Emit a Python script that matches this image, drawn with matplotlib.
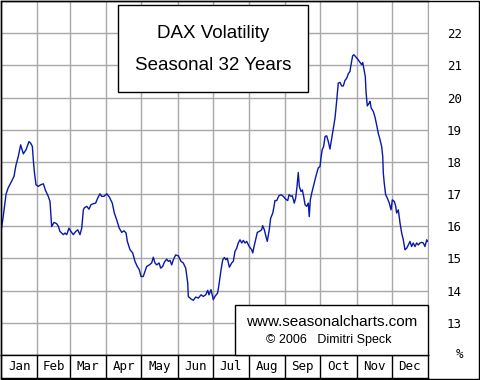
import matplotlib
matplotlib.use('Agg')
import matplotlib.pyplot as plt
from matplotlib.patches import Rectangle

# seasonal DAX volatility (day of year, %)
days = [0, 1.5, 2.6, 4.3, 6.2, 9.1, 11.1, 12.8, 14.8, 16.8, 19.1, 21.4, 23.9, 25.4,
        26.8, 27.6, 28.5, 29.9, 31.9, 33.9, 36.2, 37.9, 40.4, 41.9, 43.3, 45.3, 47.6,
        49.0, 50.4, 53.3, 54.7, 56.2, 58.1, 59.8, 61.8, 63.9, 65.6, 67.5, 69.0, 70.4,
        71.2, 73.3, 75.2, 76.9, 78.9, 80.9, 82.7, 84.6, 86.1, 88.0, 90.4, 92.6, 95.1,
        96.9, 98.9, 101.1, 103.2, 105.1, 106.9, 108.0, 110.3, 112.6, 114.5, 116.5,
        118.2, 119.7, 121.6, 123.1, 124.5, 126.8, 128.8, 130.2, 131.6, 133.1, 135.1,
        136.5, 138.2, 139.6, 141.6, 143.0, 144.5, 145.9, 147.3, 149.3, 151.6, 153.9,
        155.8, 157.9, 159.6, 160.1, 162.4, 164.4, 166.4, 168.7, 171.0, 172.9, 175.0,
        176.7, 177.8, 179.5, 181.5, 182.9, 185.2, 186.3, 188.1, 189.5, 190.9, 192.3,
        193.4, 195.2, 197.2, 198.6, 200.0, 201.5, 202.8, 204.3, 205.8, 207.1, 208.6,
        210.0, 212.2, 214.3, 215.2, 216.3, 218.0, 219.1, 220.8, 222.8, 223.7, 225.1,
        226.5, 227.6, 229.3, 230.5, 232.3, 233.4, 234.2, 235.7, 237.6, 239.3, 241.3,
        243.4, 245.1, 246.2, 247.9, 249.0, 250.7, 251.9, 253.0, 254.1, 255.0, 256.4,
        257.6, 258.7, 259.9, 261.3, 262.7, 263.5, 264.4, 265.6, 267.0, 268.4, 269.9,
        271.2, 272.7, 273.5, 274.6, 275.8, 277.0, 278.4, 279.8, 281.2, 282.7, 284.1,
        285.5, 286.9, 288.3, 289.8, 291.2, 292.6, 294.0, 295.5, 296.9, 298.3, 298.9,
        300.6, 301.7, 303.5, 305.4, 306.9, 308.3, 309.2, 310.3, 311.4, 312.0, 313.1,
        314.8, 315.4, 316.5, 318.2, 319.7, 321.1, 322.5, 324.0, 325.4, 326.3, 326.8,
        327.6, 328.8, 330.2, 331.9, 333.4, 334.5, 336.2, 337.4, 338.2, 339.6, 341.1,
        342.5, 343.9, 345.3, 346.8, 348.2, 349.6, 351.0, 352.4, 353.9, 355.3, 356.7,
        358.1, 359.6, 361.0, 362.4, 363.9, 364.7]
vol = [15.84, 16.2, 16.5, 17.0, 17.2, 17.4, 17.55, 17.9, 18.17, 18.53, 18.25, 18.38,
       18.63, 18.58, 18.48, 18.07, 17.70, 17.29, 17.24, 17.29, 17.32, 17.13, 16.93,
       16.77, 15.99, 16.12, 16.08, 16.0, 15.84, 15.74, 15.79, 15.74, 15.94, 15.84,
       15.74, 15.84, 15.89, 15.74, 15.94, 16.51, 16.57, 16.62, 16.53, 16.67, 16.70,
       16.72, 16.88, 17.01, 16.93, 16.93, 17.01, 16.91, 16.72, 16.41, 16.20, 15.94,
       15.81, 15.86, 15.79, 15.53, 15.27, 15.17, 14.91, 14.75, 14.65, 14.44, 14.44,
       14.60, 14.75, 14.80, 14.86, 15.04, 14.86, 14.80, 14.86, 14.70, 14.75, 14.88,
       14.98, 14.91, 14.94, 14.80, 14.96, 15.11, 15.08, 14.91, 14.86, 14.70, 14.24,
       13.82, 13.74, 13.70, 13.80, 13.77, 13.87, 13.82, 13.87, 14.01, 13.87, 14.03,
       13.72, 13.82, 13.93, 14.18, 14.65, 14.95, 15.03, 14.96, 15.01, 14.73, 14.86,
       14.91, 15.22, 15.32, 15.48, 15.58, 15.48, 15.56, 15.48, 15.53, 15.37, 15.27,
       15.17, 15.37, 15.63, 15.81, 15.84, 15.89, 16.02, 15.89, 15.68, 15.53, 15.89,
       16.25, 16.41, 16.62, 16.80, 16.80, 16.95, 16.98, 16.93, 16.84, 16.80, 16.98,
       16.93, 16.95, 16.72, 16.88, 17.22, 17.67, 17.24, 17.08, 17.13, 16.93, 16.67,
       16.62, 16.72, 16.30, 16.82, 17.03, 17.24, 17.44, 17.65, 17.81, 17.86, 18.12,
       18.38, 18.48, 18.79, 18.81, 18.63, 18.40, 18.74, 19.05, 19.36, 19.88, 20.45,
       20.47, 20.36, 20.36, 20.53, 20.60, 20.74, 20.81, 20.96, 21.30, 21.33, 21.25,
       21.17, 21.09, 21.02, 21.09, 20.86, 20.65, 20.19, 19.74, 19.83, 19.88, 19.67,
       19.57, 19.39, 19.15, 18.89, 18.69, 18.48, 18.17, 17.65, 17.34, 16.98, 16.88,
       16.72, 16.51, 16.82, 16.77, 16.62, 16.41, 16.51, 16.10, 15.79, 15.58, 15.27,
       15.32, 15.42, 15.53, 15.37, 15.48, 15.37, 15.48, 15.42, 15.48, 15.50, 15.48,
       15.37, 15.58, 15.53]

months = ['Jan', 'Feb', 'Mar', 'Apr', 'May', 'Jun', 'Jul', 'Aug', 'Sep', 'Oct', 'Nov', 'Dec']
month_starts = [0, 31, 59, 90, 120, 151, 181, 212, 243, 273, 304, 334, 365]
yticks = list(range(13, 23))

W, H = 480, 380
grid_c = '#a8a8a8'
mono = 'DejaVu Sans Mono'


def fx(px):
    return px / W


def fy(py):
    return 1 - py / H


fig = plt.figure(figsize=(4.8, 3.8), dpi=100)
fig.patch.set_facecolor('white')

ax = fig.add_axes([fx(1), fy(355), 427 / W, 354 / H])
ax.plot(days, vol, color='#0818a8', lw=1.0, zorder=3)
ax.set_xlim(0, 365)
ax.set_ylim(12, 23)
ax.set_xticks(month_starts[1:])
ax.set_xticklabels([])
ax.tick_params(axis='x', length=0)
ax.set_yticks(yticks)
ax.yaxis.tick_right()
ax.tick_params(axis='y', length=0, pad=13.5, labelsize=9)
for lab in ax.get_yticklabels():
    lab.set_fontfamily(mono)
ax.grid(True, color=grid_c, lw=1.0, zorder=0)
for s in ['top', 'left', 'bottom']:
    ax.spines[s].set_color('black')
    ax.spines[s].set_linewidth(1.0)
ax.spines['right'].set_color(grid_c)

# month band
mx = fig.add_axes([fx(1), fy(378), 427 / W, 23 / H])
mx.set_xlim(0, 365)
mx.set_ylim(0, 1)
mx.set_xticks([])
mx.set_yticks([])
for s in mx.spines.values():
    s.set_color('black')
    s.set_linewidth(1.0)
for m0 in month_starts[1:-1]:
    mx.axvline(m0, color='black', lw=1.0)
for i, name in enumerate(months):
    mx.text((month_starts[i] + month_starts[i + 1]) / 2, 0.5, name, ha='center',
            va='center', fontsize=9, family=mono)

fig.text(fx(459), fy(355), '%', ha='center', va='center', fontsize=9, family=mono)

# title box
fig.add_artist(Rectangle((fx(118), fy(92)), 190 / W, 87 / H, facecolor='white',
                         edgecolor='black', lw=1.0, zorder=5))
fig.text(fx(213), fy(34), 'DAX Volatility', ha='center', va='center', fontsize=13.5,
         family='Liberation Sans', zorder=6)
fig.text(fx(213), fy(65), 'Seasonal 32 Years', ha='center', va='center', fontsize=13.5,
         family='Liberation Sans', zorder=6)

# copyright box
fig.add_artist(Rectangle((fx(235), fy(355)), 193 / W, 50 / H, facecolor='white',
                         edgecolor='black', lw=1.0, zorder=5))
fig.text(fx(332), fy(322), 'www.seasonalcharts.com', ha='center', va='center',
         fontsize=11, family='Liberation Sans', zorder=6)
fig.text(fx(329), fy(340), '\u00a9 2006   Dimitri Speck', ha='center', va='center',
         fontsize=9, family='Liberation Sans', zorder=6)

# outer frame
fig.add_artist(Rectangle((0.5 / W, 1.5 / H), 478 / W, 377.5 / H, fill=False,
                         edgecolor='black', lw=1.0))

fig.savefig('out.png', dpi=100)
